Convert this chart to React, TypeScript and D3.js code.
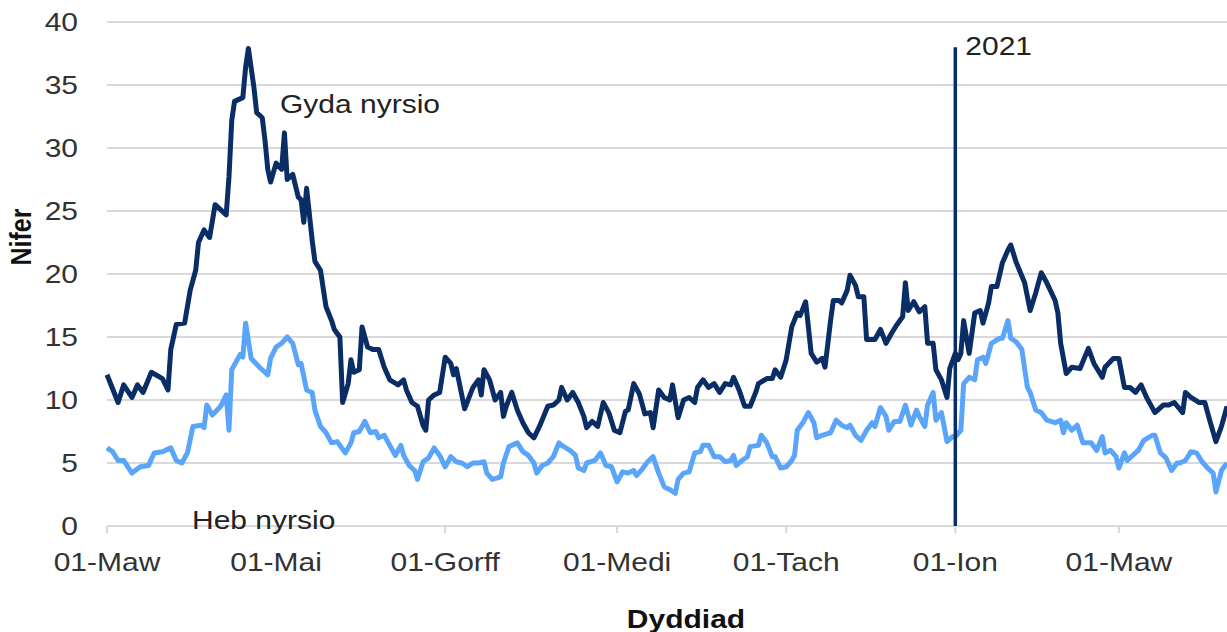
import React, { useRef, useEffect } from 'react';
import * as d3 from 'd3';

// day offsets are days since 01 Mar 2020
const START_DATE = new Date(2020, 2, 1);
const END_OFFSET = 404;

const withNursing: [number, number][] = [
  [0, 12.0], [4, 9.8], [6, 11.2], [9, 10.2], [11, 11.2], [13, 10.6], [16, 12.2], [20, 11.7],
  [22, 10.8], [23, 14.0], [25, 16.0], [28, 16.1], [30, 18.7], [32, 20.3], [33, 22.5], [35, 23.5],
  [37, 22.9], [39, 25.5], [43, 24.7], [44, 27.7], [45, 32.2], [46, 33.7], [49, 34.0], [50, 36.4],
  [51, 37.9], [53, 34.8], [54, 32.8], [56, 32.4], [57, 30.6], [58, 28.3], [59, 27.3], [61, 28.8],
  [63, 28.3], [64, 31.2], [65, 27.5], [67, 27.9], [69, 26.1], [70, 25.9], [71, 24.1], [72, 26.8],
  [74, 22.7], [75, 21.0], [77, 20.3], [79, 17.4], [81, 16.3], [82, 15.6], [84, 15.0], [85, 9.8],
  [87, 11.3], [88, 13.2], [89, 12.2], [91, 12.4], [92, 15.8], [94, 14.2], [96, 14.0], [98, 14.0],
  [100, 12.6], [102, 11.6], [105, 11.2], [107, 11.6], [108, 10.8], [110, 9.8], [112, 9.5], [114, 8.0],
  [115, 7.6], [116, 10.0], [118, 10.4], [120, 10.6], [122, 13.4], [124, 12.9], [125, 12.0], [126, 12.5],
  [129, 9.3], [132, 11.0], [134, 11.6], [135, 10.4], [136, 12.4], [138, 11.6], [140, 10.0], [142, 10.6],
  [143, 8.7], [144, 9.5], [146, 10.6], [148, 9.2], [150, 8.2], [152, 7.4], [154, 7.0], [156, 7.9],
  [159, 9.5], [161, 9.6], [163, 10.0], [164, 11.0], [166, 10.0], [168, 10.6], [170, 9.8], [172, 8.7],
  [173, 7.8], [175, 8.3], [177, 7.9], [179, 9.8], [181, 9.0], [183, 7.6], [185, 7.4], [187, 9.1],
  [188, 9.2], [190, 11.3], [192, 10.5], [194, 8.9], [196, 9.0], [197, 7.8], [199, 10.8], [201, 10.2],
  [203, 10.0], [204, 11.2], [206, 8.6], [208, 10.0], [210, 10.2], [212, 9.8], [213, 11.0], [215, 11.6],
  [217, 11.0], [219, 11.3], [221, 10.6], [223, 11.3], [225, 11.2], [226, 11.8], [228, 10.8], [230, 9.5],
  [232, 9.5], [234, 10.6], [235, 11.3], [238, 11.7], [240, 11.7], [241, 12.4], [243, 11.8], [245, 13.2],
  [247, 15.8], [249, 16.9], [250, 16.7], [252, 17.8], [253, 15.8], [254, 13.7], [256, 13.0], [258, 13.3],
  [259, 12.6], [261, 16.3], [262, 17.9], [264, 17.9], [265, 17.7], [267, 18.7], [268, 19.9], [270, 19.1],
  [271, 18.2], [273, 18.2], [274, 14.8], [277, 14.8], [279, 15.6], [281, 14.5], [283, 15.3], [285, 16.0],
  [287, 16.6], [288, 19.3], [289, 17.1], [291, 17.8], [293, 17.0], [295, 17.4], [296, 14.5], [298, 14.5],
  [299, 12.4], [301, 11.6], [303, 10.2], [304, 12.5], [306, 13.7], [307, 13.2], [308, 13.7], [309, 16.3],
  [311, 13.7], [313, 16.9], [315, 17.1], [316, 16.1], [318, 17.7], [319, 19.0], [321, 19.0], [323, 20.9],
  [325, 21.9], [326, 22.3], [328, 20.9], [331, 19.3], [333, 17.1], [335, 18.5], [337, 20.1], [339, 19.3],
  [342, 17.9], [343, 16.9], [344, 14.5], [346, 12.1], [348, 12.6], [351, 12.5], [354, 14.1], [356, 12.9],
  [359, 11.8], [360, 12.6], [363, 13.3], [365, 13.3], [367, 11.0], [369, 11.0], [371, 10.6], [373, 11.2],
  [375, 10.2], [378, 9.0], [381, 9.6], [383, 9.6], [385, 9.8], [388, 9.0], [389, 10.6], [391, 10.2],
  [394, 9.8], [396, 9.8], [398, 8.2], [400, 6.7], [402, 7.9], [404, 9.5],
];

const withoutNursing: [number, number][] = [
  [0, 6.2], [2, 5.9], [4, 5.2], [6, 5.2], [9, 4.2], [12, 4.7], [15, 4.8], [17, 5.8],
  [20, 5.9], [23, 6.2], [25, 5.2], [27, 5.0], [29, 5.8], [31, 7.9], [34, 8.0], [35, 7.8],
  [36, 9.6], [38, 8.8], [41, 9.5], [43, 10.4], [44, 7.6], [45, 12.4], [48, 13.6], [49, 13.4],
  [50, 16.1], [52, 13.3], [55, 12.6], [58, 12.0], [59, 13.3], [61, 14.2], [63, 14.5], [65, 15.0],
  [67, 14.5], [69, 12.8], [70, 12.9], [72, 10.8], [74, 10.6], [75, 9.2], [77, 7.9], [79, 7.4],
  [81, 6.6], [83, 6.7], [86, 5.8], [88, 6.6], [89, 7.4], [91, 7.5], [93, 8.3], [95, 7.4],
  [97, 7.5], [98, 7.0], [100, 7.2], [102, 6.4], [104, 5.6], [106, 6.4], [107, 5.6], [109, 4.8],
  [111, 4.4], [112, 3.7], [114, 5.1], [116, 5.4], [118, 6.2], [120, 5.6], [122, 4.7], [124, 5.5],
  [126, 5.1], [128, 5.0], [130, 4.7], [132, 5.0], [134, 5.0], [136, 5.1], [137, 4.2], [139, 3.7],
  [142, 3.9], [143, 5.0], [145, 6.3], [148, 6.6], [150, 5.9], [152, 5.6], [154, 5.0], [155, 4.2],
  [157, 4.8], [159, 5.0], [161, 5.5], [163, 6.6], [164, 6.4], [167, 6.0], [169, 5.6], [170, 4.6],
  [172, 4.4], [173, 5.0], [176, 5.2], [178, 5.8], [180, 4.8], [182, 4.7], [184, 3.5], [186, 4.3],
  [188, 4.2], [190, 4.4], [191, 4.0], [193, 4.5], [195, 5.1], [197, 5.5], [199, 4.2], [201, 3.1],
  [203, 2.9], [205, 2.6], [206, 3.7], [208, 4.2], [210, 4.3], [212, 5.8], [214, 5.9], [215, 6.4],
  [217, 6.4], [219, 5.5], [221, 5.5], [223, 5.1], [225, 5.2], [226, 5.6], [227, 4.8], [229, 5.2],
  [231, 5.5], [232, 6.3], [235, 6.4], [236, 7.2], [238, 6.6], [240, 5.5], [241, 5.5], [243, 4.6],
  [245, 4.7], [247, 5.2], [248, 5.6], [249, 7.6], [251, 8.2], [253, 9.0], [255, 8.2], [256, 7.0],
  [258, 7.2], [261, 7.4], [263, 8.4], [265, 8.0], [267, 7.8], [268, 8.0], [270, 7.2], [272, 6.8],
  [274, 7.6], [276, 8.2], [277, 7.9], [279, 9.4], [281, 8.7], [282, 7.6], [284, 8.3], [286, 8.3],
  [288, 9.6], [290, 8.0], [292, 9.2], [293, 8.7], [295, 7.9], [296, 9.6], [298, 10.6], [299, 8.4],
  [301, 9.0], [303, 6.7], [305, 7.1], [306, 7.1], [308, 7.6], [309, 11.3], [311, 11.8], [313, 11.6],
  [314, 13.2], [316, 13.4], [317, 12.9], [319, 14.5], [322, 14.9], [323, 14.9], [325, 16.3], [326, 14.9],
  [328, 14.6], [330, 14.0], [332, 11.0], [333, 10.6], [335, 9.2], [337, 9.0], [339, 8.4], [342, 8.2],
  [344, 8.4], [345, 7.4], [346, 8.2], [348, 7.6], [350, 8.0], [352, 6.6], [355, 6.6], [357, 6.0],
  [359, 7.1], [360, 5.8], [362, 6.0], [364, 5.5], [365, 4.6], [367, 5.8], [368, 5.2], [370, 5.6],
  [372, 6.0], [374, 6.8], [377, 7.2], [378, 7.2], [380, 5.8], [382, 5.4], [384, 4.4], [386, 5.0],
  [387, 5.0], [389, 5.2], [391, 5.9], [393, 5.8], [395, 5.1], [397, 4.6], [399, 4.2], [400, 2.7],
  [402, 4.4], [404, 5.0],
];

const tickDates = ['2020-03-01', '2020-05-01', '2020-07-01', '2020-09-01', '2020-11-01', '2021-01-01', '2021-03-01'];
const tickLabels = ['01-Maw', '01-Mai', '01-Gorff', '01-Medi', '01-Tach', '01-Ion', '01-Maw'];
const yTicks = [0, 5, 10, 15, 20, 25, 30, 35, 40];
const markerDate = '2021-01-01';
const markerTop = 38;

const WIDTH = 1227;
const HEIGHT = 632;
const FONT = '"Liberation Sans", Arial, sans-serif';
const FONT_SIZE = 25;
const STRETCH = 1.2; // the source picture is a bit wider than tall
const DARK = '#0b2d66';
const LIGHT = '#5aa5fa';

const App = () => {
  const svgRef = useRef<SVGSVGElement>(null);

  useEffect(() => {
    const margin = { top: 22, right: 0, bottom: 106, left: 107 };
    const svg = d3.select(svgRef.current);
    svg.selectAll('*').remove();

    const parse = d3.timeParse('%Y-%m-%d');
    const toDate = (d: number) => d3.timeDay.offset(START_DATE, d);

    const x = d3
      .scaleTime()
      .domain([START_DATE, toDate(END_OFFSET)])
      .range([margin.left, WIDTH - margin.right]);
    const y = d3
      .scaleLinear()
      .domain([0, 40])
      .range([HEIGHT - margin.bottom, margin.top]);

    const place = (tx: number, ty: number) => `translate(${tx},${ty}) scale(${STRETCH},1)`;

    // gridlines
    svg
      .append('g')
      .selectAll('line')
      .data(yTicks)
      .join('line')
      .attr('x1', margin.left)
      .attr('x2', WIDTH - margin.right)
      .attr('y1', (d) => y(d))
      .attr('y2', (d) => y(d))
      .attr('stroke', '#d9d9d9')
      .attr('stroke-width', 2);

    // y labels
    svg
      .append('g')
      .selectAll('text')
      .data(yTicks)
      .join('text')
      .attr('transform', (d) => place(78, y(d)))
      .attr('dy', '0.36em')
      .attr('text-anchor', 'end')
      .attr('font-family', FONT)
      .attr('font-size', FONT_SIZE)
      .attr('fill', '#333')
      .text((d) => d);

    // x ticks + labels
    const xt = svg
      .append('g')
      .selectAll('g')
      .data(tickDates.map((d, i) => ({ date: parse(d) as Date, label: tickLabels[i] })))
      .join('g')
      .attr('transform', (d) => `translate(${x(d.date)},${y(0)})`);
    xt.append('line').attr('y2', 7).attr('stroke', '#d9d9d9').attr('stroke-width', 2);
    xt.append('text')
      .attr('transform', place(0, 45))
      .attr('text-anchor', 'middle')
      .attr('font-family', FONT)
      .attr('font-size', FONT_SIZE)
      .attr('fill', '#333')
      .text((d) => d.label);

    // axis titles
    svg
      .append('text')
      .attr('transform', `translate(31,237) rotate(-90) scale(1,${STRETCH})`)
      .attr('text-anchor', 'middle')
      .attr('font-family', FONT)
      .attr('font-size', FONT_SIZE)
      .attr('font-weight', 'bold')
      .attr('fill', '#111')
      .text('Nifer');
    svg
      .append('text')
      .attr('transform', place(686, 628))
      .attr('text-anchor', 'middle')
      .attr('font-family', FONT)
      .attr('font-size', FONT_SIZE)
      .attr('font-weight', 'bold')
      .attr('fill', '#111')
      .text('Dyddiad');

    const line = d3
      .line<[number, number]>()
      .x((d) => x(toDate(d[0])))
      .y((d) => y(d[1]));

    svg
      .append('path')
      .datum(withoutNursing)
      .attr('d', line)
      .attr('fill', 'none')
      .attr('stroke', LIGHT)
      .attr('stroke-width', 5)
      .attr('stroke-linejoin', 'round');
    svg
      .append('path')
      .datum(withNursing)
      .attr('d', line)
      .attr('fill', 'none')
      .attr('stroke', DARK)
      .attr('stroke-width', 5)
      .attr('stroke-linejoin', 'round');

    // 2021 marker
    const mx = x(parse(markerDate) as Date);
    svg
      .append('line')
      .attr('x1', mx)
      .attr('x2', mx)
      .attr('y1', y(0))
      .attr('y2', y(markerTop))
      .attr('stroke', DARK)
      .attr('stroke-width', 3.5);

    const labels = [
      { text: '2021', x: mx + 10, y: 55 },
      { text: 'Gyda nyrsio', x: 280, y: 113 },
      { text: 'Heb nyrsio', x: 192, y: 529 },
    ];
    svg
      .append('g')
      .selectAll('text')
      .data(labels)
      .join('text')
      .attr('transform', (d) => place(d.x, d.y))
      .attr('font-family', FONT)
      .attr('font-size', FONT_SIZE)
      .attr('fill', '#222')
      .text((d) => d.text);
  }, []);

  return (
    <svg
      ref={svgRef}
      width={WIDTH}
      height={HEIGHT}
      style={{ position: 'absolute', left: 0, top: 0, background: '#fff' }}
    />
  );
};

export default App;
